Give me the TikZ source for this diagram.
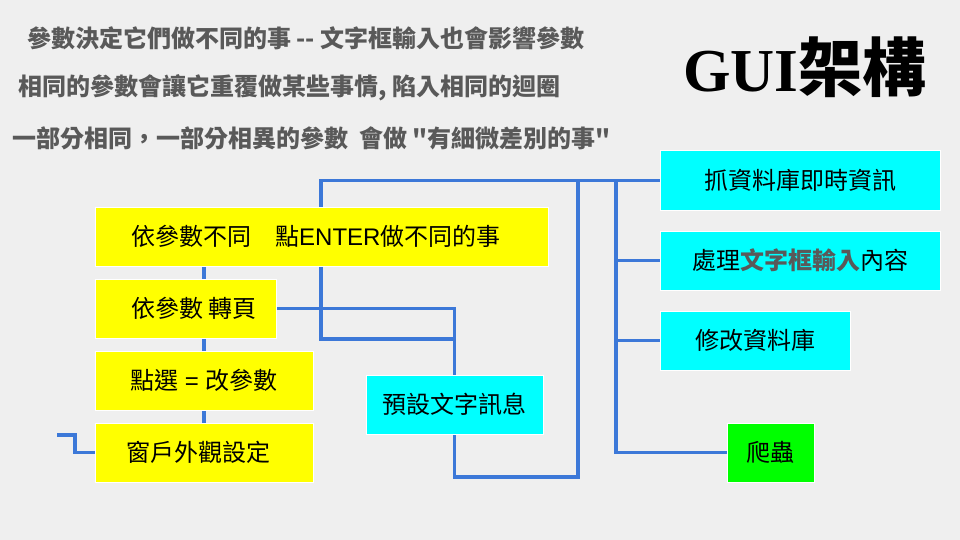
\documentclass[tikz,border=0pt]{standalone}
\usepackage{fontspec}
\newfontfamily\cjk{Noto Sans CJK TC}
\newfontfamily\ari{Liberation Sans}
\newfontfamily\tnr{Liberation Serif}
\usetikzlibrary{backgrounds}
\definecolor{bg}{HTML}{EFEFEF}
\definecolor{ln}{HTML}{3C78D8}
\definecolor{hd}{HTML}{595959}
\definecolor{yel}{HTML}{FFFF00}
\definecolor{cya}{HTML}{00FFFF}
\definecolor{grn}{HTML}{00FF00}
\tikzset{
  box/.style={draw=white, line width=1pt, inner sep=0pt, minimum height=59pt,
    font=\cjk\fontsize{24}{28}\selectfont, text=black},
  ybox/.style={box, fill=yel},
  cbox/.style={box, fill=cya},
  gbox/.style={box, fill=grn},
  lbl/.style={inner sep=0pt, anchor=west, font=\cjk\fontsize{24}{28}\selectfont},
  head/.style={inner sep=0pt, anchor=west, text=hd, font=\cjk\bfseries\fontsize{24}{28}\selectfont},
  wire/.style={draw=ln, line width=3.2pt},
}
\begin{document}
\begin{tikzpicture}[x=1pt,y=-1pt]
\useasboundingbox (0,0) rectangle (960,540);

% headers
\node[head] (h1) at (27,38) {參數決定它們做不同的事 -{}- 文字框輸入也會影響參數};
\node[head] (h2) at (18,88) {相同的參數會讓它重覆做某些事情, 陷入相同的迴圈};
\node[head] (h3) at (12,138) {一部分相同，一部分相異的參數\ \ 會做 "有細微差別的事"};

% title
\node[inner sep=0pt, anchor=base west] (title) at (683,92)
  {{\tnr\bfseries\fontsize{61}{66}\selectfont GUI}{\cjk\bfseries\fontsize{64}{70}\selectfont 架構}};

% left boxes
\node[ybox, minimum width=453pt] (b1) at (321.5,236.5) {};
\node[lbl] (t1) at (131,236.5) {依參數不同　點{\ari ENTER}做不同的事};
\node[ybox, minimum width=181pt] (b2) at (185.5,308.5) {};
\node[lbl] (t2) at (131,308.5) {依參數 轉頁};
\node[ybox, minimum width=218pt] (b3) at (204,380.5) {點選{\ari\ =\ }改參數};
\node[ybox, minimum width=218pt] (b4) at (204,452.5) {};
\node[lbl] (t4) at (126,452.5) {窗戶外觀設定};

% middle / right boxes
\node[cbox, minimum width=177pt] (c0) at (454.5,404.5) {預設文字訊息};
\node[cbox, minimum width=280pt] (r1) at (800,180.5) {抓資料庫即時資訊};
\node[cbox, minimum width=280pt] (r2) at (800,260.5) {處理{\color{hd}\bfseries 文字框輸入}內容};
\node[cbox, minimum width=190pt] (r3) at (755,340.5) {修改資料庫};
\node[gbox, minimum width=87pt] (g1) at (770.5,452.5) {爬蟲};

% junctions
\coordinate (j1) at (321,180.5);
\coordinate (j2) at (321,339);
\coordinate (j3) at (578,477);
\coordinate (j4) at (616,180.5);
\coordinate (s0) at (57,435);
\coordinate (s1) at (75,435);

\begin{pgfonlayer}{background}
\fill[bg] (0,0) rectangle (960,540);
\draw[wire] (r1.west) -- (j1) -- (j2) -| (c0.north);
\draw[wire] (b2.east) -| (c0.north);
\draw[wire] (c0.south) |- (j3) -- (j3 |- r1.west);
\draw[wire] (j4) |- (r2.west);
\draw[wire] (j4) |- (r3.west);
\draw[wire] (j4) |- (g1.west);
\draw[wire] (b1.south -| b3.north) -- (b4.north);
\draw[wire] (s0) -- (s1) |- (b4.west);
\end{pgfonlayer}
\end{tikzpicture}
\end{document}
